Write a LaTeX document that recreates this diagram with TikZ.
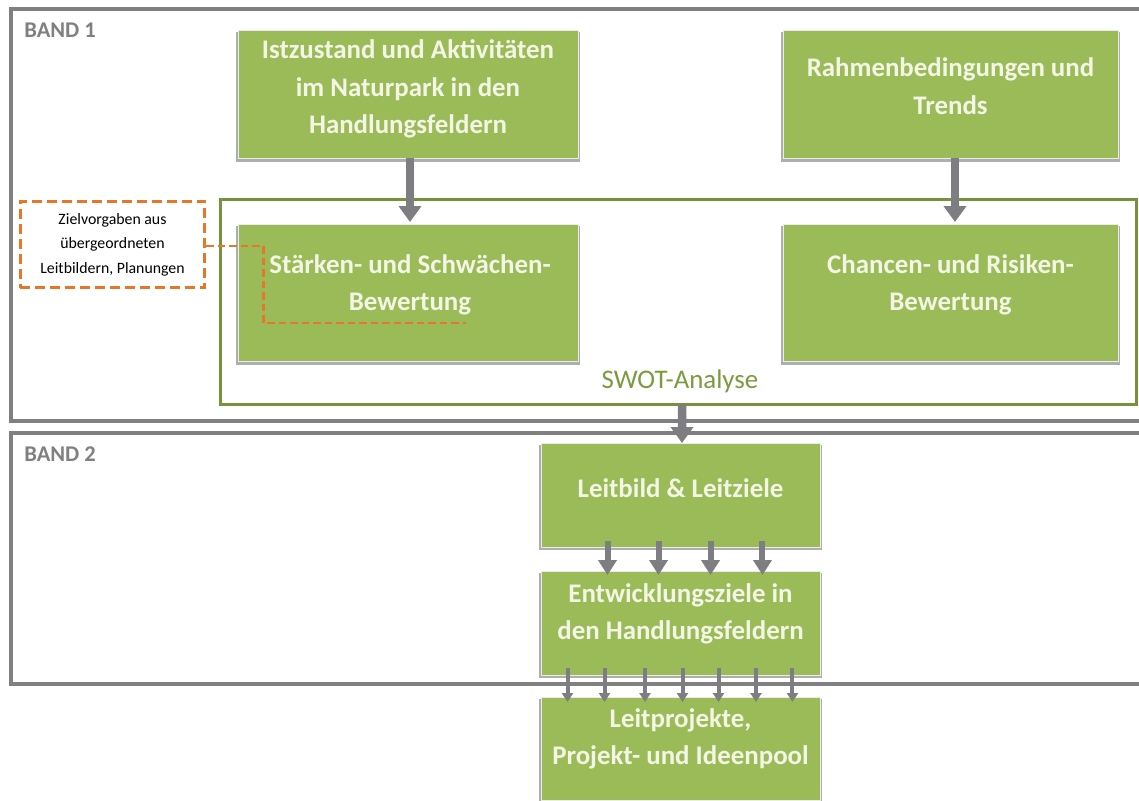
\documentclass[tikz,border=0pt]{standalone}
\usepackage{fontspec}
\setmainfont{Carlito}
\usetikzlibrary{arrows.meta,shadows}
\definecolor{gfill}{RGB}{155,187,89}
\definecolor{gtext}{RGB}{243,246,229}
\definecolor{swotc}{RGB}{118,146,60}
\definecolor{swotl}{RGB}{122,155,62}
\definecolor{bandc}{RGB}{128,128,128}
\definecolor{arrc}{RGB}{125,125,130}
\definecolor{orc}{RGB}{232,118,40}
\begin{document}
\begin{tikzpicture}[x=0.02cm,y=-0.02cm,
  band/.style={draw=bandc,line width=0.08cm,minimum width=22.98cm,inner sep=0pt,outer sep=0pt},
  bandlabel/.style={text=bandc,font=\bfseries\fontsize{12.8}{14}\selectfont,anchor=west,inner sep=0pt},
  gbox/.style={fill=gfill,draw=black!8,line width=0.5pt,inner sep=0pt,outer sep=0pt,
    drop shadow={shadow xshift=0pt,shadow yshift=-1.6pt,shadow scale=1.012,fill=black!45,opacity=.7}},
  btext/.style={text=gtext,font=\bfseries\fontsize{15.3}{21.4}\selectfont,align=center,inner sep=0pt},
  swotbox/.style={draw=swotc,line width=0.06cm,minimum width=18.34cm,minimum height=4.12cm,inner sep=0pt,outer sep=0pt},
  zvbox/.style={draw=orc,line width=0.06cm,dash pattern=on 0.2cm off 0.1cm,fill=white,minimum width=3.7cm,minimum height=1.74cm,inner sep=0pt,
    align=center,font=\fontsize{9}{13.9}\selectfont},
  zvline/.style={draw=orc,line width=0.045cm,dash pattern=on 0.15cm off 0.08cm},
  bigarrow/.style={draw=arrc,line width=0.17cm,-{Triangle[width=0.44cm,length=0.32cm]}},
  medarrow/.style={draw=arrc,line width=0.12cm,-{Triangle[width=0.36cm,length=0.3cm]}},
  smallarrow/.style={draw=arrc,line width=0.08cm,-{Triangle[width=0.22cm,length=0.18cm]}}
]
\useasboundingbox (0,0) rectangle (1139,801);
\clip (0,0) rectangle (1139,801);
\fill[white] (0,0) rectangle (1139,801);

% bands
\node[band,minimum height=8.24cm] (band1) at (585.5,215) {};
\node[band,minimum height=5.02cm] (band2) at (585.5,558.5) {};
\node[bandlabel] (b1l) at (24,30) {BAND 1};
\node[bandlabel] (b2l) at (24,454) {BAND 2};

% SWOT frame
\node[swotbox] (swot) at (678.5,302) {};
\node[text=swotl,font=\fontsize{15.3}{17}\selectfont,inner sep=0pt] (swotlabel) at (680,381) {SWOT-Analyse};

% green boxes
\node[gbox,minimum width=6.8cm,minimum height=2.56cm] (ist) at (408,94) {};
\node[btext] (istT) at (408,89) {Istzustand und Aktivitäten\\im Naturpark in den\\Handlungsfeldern};

\node[gbox,minimum width=6.7cm,minimum height=2.56cm] (rahmen) at (950.5,94) {};
\node[btext] (rahmenT) at (950.5,86) {Rahmenbedingungen und\\Trends};

\node[gbox,minimum width=6.8cm,minimum height=2.74cm] (staerken) at (408,292.5) {};
\node[btext] (staerkenT) at (410,285) {Stärken- und Schwächen-\\Bewertung};

\node[gbox,minimum width=6.7cm,minimum height=2.74cm] (chancen) at (950.5,292.5) {};
\node[btext] (chancenT) at (950.5,285) {Chancen- und Risiken-\\Bewertung};

\node[gbox,minimum width=5.58cm,minimum height=2.08cm] (leitbild) at (680.5,495) {};
\node[btext] (leitbildT) at (680.5,488) {Leitbild \& Leitziele};

\node[gbox,minimum width=5.58cm,minimum height=2.08cm] (entw) at (680.5,623) {};
\node[btext] (entwT) at (680.5,614) {Entwicklungsziele in\\den Handlungsfeldern};

\node[gbox,minimum width=5.58cm,minimum height=2.06cm] (leitpr) at (680.5,748.5) {};
\node[btext] (leitprT) at (680.5,739) {Leitprojekte,\\Projekt- und Ideenpool};

% orange dashed box and connector
\node[zvbox] (zv) at (112.5,244.5) {Zielvorgaben aus\\übergeordneten\\Leitbildern, Planungen};
\coordinate (zend) at (466,323);
\draw[zvline] ([yshift=-0.03cm]zv.east) -- ++(57,0) |- (zend);

% arrows
\draw[bigarrow] ([xshift=0.04cm]ist.south) -- ([xshift=0.04cm,yshift=0.04cm]staerken.north);
\draw[bigarrow] ([xshift=0.09cm]rahmen.south) -- ([xshift=0.09cm,yshift=0.04cm]chancen.north);
\draw[bigarrow] ([xshift=0.07cm]swot.south) -- ([xshift=0.03cm]leitbild.north);
\foreach \dx in {-1.46,-0.44,0.6,1.64}
  \draw[medarrow] ([xshift=\dx cm,yshift=0.12cm]leitbild.south) -- ([xshift=\dx cm,yshift=-0.08cm]entw.north);
\foreach \dx in {-2.26,-1.52,-0.71,0.04,0.76,1.51,2.24}
  \draw[smallarrow] ([xshift=\dx cm,yshift=0.14cm]entw.south) -- ([xshift=\dx cm,yshift=-0.1cm]leitpr.north);
\end{tikzpicture}
\end{document}
